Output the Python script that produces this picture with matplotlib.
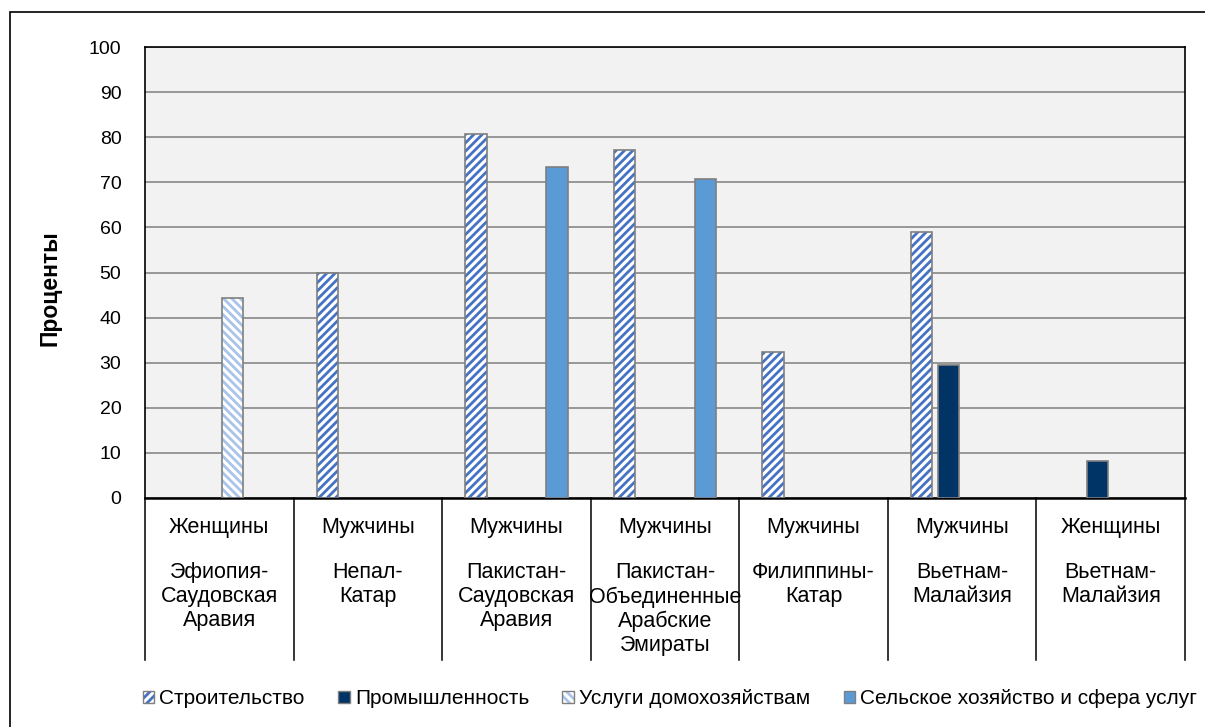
import matplotlib
matplotlib.use("Agg")
import matplotlib.pyplot as plt
import matplotlib.patches as mpatches
import numpy as np

plt.rcParams['font.family'] = ['Liberation Sans', 'DejaVu Sans']

sex = ["Женщины", "Мужчины", "Мужчины", "Мужчины", "Мужчины", "Мужчины", "Женщины"]
corridors = ["Эфиопия-\nСаудовская\nАравия", "Непал-\nКатар", "Пакистан-\nСаудовская\nАравия",
             "Пакистан-\nОбъединенные\nАрабские\nЭмираты", "Филиппины-\nКатар",
             "Вьетнам-\nМалайзия", "Вьетнам-\nМалайзия"]
series = ["Строительство", "Промышленность", "Услуги домохозяйствам", "Сельское хозяйство и сфера услуг"]
construction = [np.nan, 50.0, 80.6, 77.1, 32.3, 59.0, np.nan]
industry = [np.nan, np.nan, np.nan, np.nan, np.nan, 29.4, 8.2]
household = [44.4, np.nan, np.nan, np.nan, np.nan, np.nan, np.nan]
agri_services = [np.nan, np.nan, 73.5, 70.8, np.nan, np.nan, np.nan]
yticks = list(range(0, 101, 10))

plt.rcParams['hatch.linewidth'] = 2.0

fig = plt.figure(figsize=(12.05, 7.27), dpi=100)
# outer frame (top-left corner visible, rest runs off the canvas)
fig.patches.append(mpatches.Rectangle((10/1205, -0.1), 1.2, 1.1 - 12/727, transform=fig.transFigure,
                                      fill=False, edgecolor='black', linewidth=1.2, zorder=0))
ax = fig.add_axes([145/1205, 1 - 498/727, 1040/1205, 451/727])
ax.set_facecolor('#F2F2F2')

x = np.arange(len(sex))
w = 0.1435
step = 0.182
offs = [-1.5 * step, -0.5 * step, 0.5 * step, 1.5 * step]
edge = '#7F7F7F'

def hatched(vals, off, hcolor, hatch):
    ax.bar(x + off, vals, w, color='white', edgecolor=hcolor, hatch=hatch, linewidth=0, zorder=2)
    ax.bar(x + off, vals, w, fill=False, edgecolor=edge, linewidth=1.2, zorder=3)

hatched(construction, offs[0], '#4472C4', '////')
ax.bar(x + offs[1], industry, w, color='#003366', edgecolor=edge, linewidth=1.2, zorder=3)
hatched(household, offs[2], '#A9C4EB', '\\\\\\\\')
ax.bar(x + offs[3], agri_services, w, color='#5B9BD5', edgecolor=edge, linewidth=1.2, zorder=3)

ax.set_xlim(-0.5, len(sex) - 0.5)
ax.set_ylim(0, 100)
ax.set_yticks(yticks)
ax.set_yticklabels([str(v) for v in yticks], fontsize=14)
ax.tick_params(axis='y', length=0, pad=17)
ax.yaxis.grid(True, color='#7F7F7F', linewidth=1.1)
ax.set_axisbelow(True)
ax.set_xticks([])
for s in ax.spines.values():
    s.set_color('black')
    s.set_linewidth(1.2)
ax.spines['bottom'].set_linewidth(1.8)

trans = ax.get_xaxis_transform()
for b in np.arange(-0.5, len(sex), 1.0):
    ax.plot([b, b], [0, -0.359], transform=trans, color='black', linewidth=1.1, clip_on=False)
for i in range(len(sex)):
    ax.text(x[i], -0.066, sex[i], transform=trans, ha='center', va='center', fontsize=15.5)
    ax.text(x[i], -0.142, corridors[i], transform=trans, ha='center', va='top', fontsize=15.5,
            linespacing=1.2)

fig.text(50/1205, 1 - 288/727, "Проценты", rotation=90, ha='center', va='center',
         fontsize=16.5, fontweight='bold')

outline = lambda: mpatches.Patch(fill=False, edgecolor=edge, linewidth=1.0)
handles = [
    (mpatches.Patch(facecolor='white', edgecolor='#4472C4', hatch='////', linewidth=0), outline()),
    mpatches.Patch(facecolor='#003366', edgecolor=edge),
    (mpatches.Patch(facecolor='white', edgecolor='#A9C4EB', hatch='\\\\\\\\', linewidth=0), outline()),
    mpatches.Patch(facecolor='#5B9BD5', edgecolor=edge),
]
fig.legend(handles, series, loc='center', bbox_to_anchor=(670/1205, 1 - 699/727), ncol=4,
           frameon=False, fontsize=15, handlelength=0.55, handleheight=0.55, handletextpad=0.25,
           columnspacing=1.6)

fig.savefig("out.png", dpi=100)
